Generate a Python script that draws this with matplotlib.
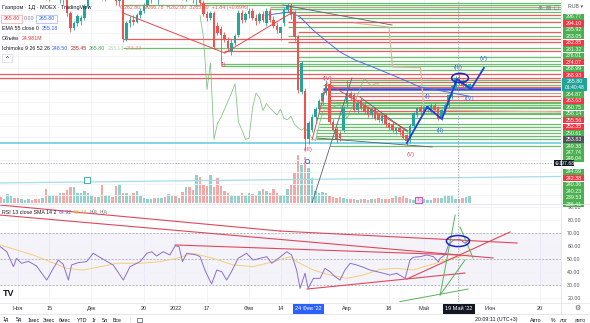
import matplotlib
matplotlib.use("Agg")
import matplotlib.pyplot as plt
import numpy as np
from matplotlib.patches import Rectangle, Ellipse

plt.rcParams['font.family'] = ['Liberation Sans', 'DejaVu Sans']

# ---------------- data ----------------
first_bar = -5  # bar index of the first candle (0 = 1 Nov 2021)

opens = [352, 347, 350, 354, 357, 355, 351, 353, 357, 361,
         359, 354, 349, 351, 341, 346, 349, 343, 345, 338,
         327, 314, 318, 320, 323, 333, 342, 347, 345, 348,
         340, 345, 348, 343, 337, 340, 305, 318, 321, 319,
         325, 329, 334, 339, 344, 341, 345, 348, 346, 349,
         353, 350, 352, 341, 347, 344, 339, 343, 336, 326,
         323, 327, 316, 313, 308, 303, 293, 301, 308, 327,
         321, 326, 329, 323, 320, 326, 318, 329, 321, 316,
         310, 318, 330, 334, 328, 306, 259, 260, 218, 226,
         237, 244, 251, 258, 266, 233, 227, 223, 226, 249,
         258, 256, 243, 252, 248, 245, 239, 245, 240, 234,
         239, 232, 231, 225, 228, 226, 222, 218, 230, 239,
         246, 242, 244, 243, 247, 246, 237, 242, 248, 255,
         263, 272, 268, 262, 262.8]
highs = [358, 352, 356, 360, 362, 360, 355, 359, 364, 366,
         362, 357, 353, 354, 348, 352, 351, 347, 348, 340,
         329, 320, 326, 325, 335, 344, 349, 352, 350, 351,
         347, 350, 352, 345, 342, 341, 320, 324, 325, 327,
         331, 336, 341, 346, 348, 347, 350, 353, 351, 356,
         358, 354, 355, 349, 352, 348, 345, 346, 338, 329,
         329, 329, 319, 316, 311, 306, 305, 309, 330, 330,
         328, 331, 331, 326, 328, 329, 331, 331, 324, 319,
         316, 332, 336, 336, 330, 308, 286, 262, 234, 240,
         246, 253, 260, 269, 269, 236, 229, 225, 247, 269,
         260, 258, 250, 254, 250, 247, 245, 246, 241, 239,
         240, 233, 233, 229, 230, 227, 223, 231, 242, 246,
         248, 247, 248, 249, 249, 247, 244, 249, 257, 265,
         273, 274, 270, 267, 266.78]
lows = [345, 340, 346, 350, 352, 349, 346, 350, 354, 357,
        352, 346, 343, 338, 337, 343, 341, 336, 335, 324,
        311, 312, 316, 317, 321, 331, 339, 343, 340, 338,
        337, 342, 341, 334, 333, 302, 303, 315, 317, 318,
        323, 327, 332, 336, 339, 335, 341, 344, 340, 346,
        348, 344, 338, 337, 342, 336, 333, 334, 324, 320,
        321, 296, 308, 284, 302, 294, 291, 299, 306, 318,
        319, 323, 321, 317, 318, 319, 316, 319, 314, 310,
        304, 316, 328, 322, 303, 258, 257, 209, 214, 224,
        234, 241, 248, 256, 231, 225, 215, 217, 224, 246,
        252, 242, 241, 243, 240, 237, 237, 235, 233, 232,
        229, 226, 224, 223, 222, 218, 213, 215, 228, 237,
        240, 240, 242, 241, 243, 235, 235, 240, 246, 253,
        261, 265, 262, 261, 262.0]
closes = [347, 350, 354, 357, 355, 351, 353, 357, 361, 359,
          354, 349, 351, 341, 346, 349, 343, 345, 338, 327,
          314, 318, 324, 323, 333, 342, 347, 345, 348, 340,
          345, 348, 343, 337, 340, 305, 318, 321, 319, 325,
          329, 334, 339, 344, 341, 345, 348, 346, 349, 353,
          350, 352, 341, 347, 344, 339, 343, 336, 326, 323,
          327, 298, 310, 308, 304, 297, 301, 307, 327, 321,
          326, 329, 323, 320, 326, 321, 329, 321, 316, 312,
          315, 330, 334, 325, 306, 261, 284, 218, 232, 237,
          244, 251, 258, 266, 233, 226, 218, 219, 245, 258,
          254, 243, 249, 245, 242, 239, 244, 236, 235, 238,
          231, 228, 226, 228, 224, 219, 217, 230, 241, 245,
          242, 246, 247, 248, 243, 236, 243, 248, 256, 264,
          271, 267, 264, 266, 265.8]
volumes_m = [21, 14, 31, 24, 17, 17, 14, 10, 14, 10,
             14, 14, 17, 49, 28, 28, 24, 35, 35, 45,
             56, 56, 35, 35, 42, 35, 28, 21, 21, 63,
             28, 28, 21, 59, 66, 35, 35, 28, 35, 42,
             24, 17, 14, 14, 17, 17, 17, 21, 31, 28,
             24, 17, 38, 56, 56, 45, 98, 91, 63, 59,
             98, 56, 87, 59, 42, 35, 28, 28, 24, 35,
             28, 35, 31, 28, 42, 49, 42, 35, 49, 35,
             28, 28, 49, 63, 105, 168, 133, 161, 122, 87,
             42, 35, 38, 35, 24, 21, 17, 21, 17, 14,
             14, 14, 10, 14, 14, 10, 14, 14, 17, 14,
             14, 14, 17, 24, 21, 24, 17, 14, 10, 10,
             10, 14, 10, 10, 17, 17, 17, 28, 28, 28,
             14, 14, 17, 21, 24.981]

# Ichimoku lagging span: 26-bar shift, shown from this bar on
chikou_shift = 26
chikou_first_bar = 52

# EMA 55
ema_idx = [70.6, 77.7, 80.6, 84.3, 87.7, 92, 96.3, 101.4, 108.3, 114.9, 122.6, 129]
ema_val = [325, 327.9, 323.5, 312.3, 303.7, 293.4, 286.5, 280.4, 271.8, 263.2, 258.9, 255.18]

# Ichimoku leading span (pale)
senkou_idx = [96, 106, 107, 115, 116, 155]
senkou_val = [318.4, 314.9, 280.4, 280.0, 243.4, 241.7]

# horizontal levels: price, first bar, kind
hl_levels = [335.6, 333.9, 332.2, 330.4, 327.9, 325.3, 322.7, 319.2, 314.9, 310.6,
             307.2, 304.6, 302.0, 296.77, 294.10, 289.1, 285.92, 283.05, 281.32, 277.9,
             274.07, 271.0, 268.99, 267.5, 264.87, 263.63, 261.5, 258.14, 255.56, 252.35,
             250.61, 249.38, 247.74, 246.04, 244.69, 242.38, 240.36, 239.53, 236.41, 231.3,
             228.7, 226.1, 223.6, 221.0, 218.4, 215.0, 212.3]
hl_start = [52, 30, 72, 72, 75, 80, 80, 77, 77, 80,
            77, 30, 77, 30, 59, 80, 80, 58, 58, 80,
            -6, -6, 89, 89, 87, 89, 87, 89, 89, 89,
            89, 86, 86, 86, 86, 86, 86, 86, 85, 86,
            86, 85, 85, 85, 85, -6, 89]
hl_kind = ['G', 'G', 'O', 'G', 'G', 'R', 'G', 'R', 'G', 'R',
           'G', 'R', 'R', 'G', 'R', 'G', 'G', 'G', 'G', 'G',
           'R', 'R', 'G', 'R', 'G', 'R', 'B', 'O', 'R', 'R',
           'G', 'G', 'G', 'G', 'G', 'R', 'G', 'G', 'G', 'G',
           'G', 'G', 'G', 'G', 'G', 'C', 'G']

# trend lines in price pane
tl_x0 = [30, 59.1, 75.7, 84, 89.1, 97.7, 85.4, 84]
tl_y0 = [327.0, 292.5, 333.9, 217.5, 264.9, 254.6, 219.2, 163.2]
tl_x1 = [59.1, 78.6, 106.9, 88.3, 111.1, 111.4, 118.3, 95.4]
tl_y1 = [292.5, 327.9, 316.6, 266.7, 226.1, 224.4, 211.5, 271.0]
tl_kind = ['R', 'R', 'D', 'R', 'R', 'D', 'D', 'D']

# light cyan line in volume area
vline_idx = [-5.14, 155.14]
vline_val = [180.5, 186.1]

# blue Elliott wave count
wave_idx = [111.1, 116.9, 121.1, 125.4, 129.4, 133.1]
wave_val = [215.0, 246.0, 235.6, 270.0, 261.5, 279.6]
wave_lbl_text = ['(I)', '(III)', '(IV)', '(V)', '(I)', '(II)', '(III)', '(IV)', '(V)']
wave_lbl_idx = [58.6, 82.9, 88.3, 112.3, 117.1, 120.6, 125.7, 129.1, 132.9]
wave_lbl_val = [283.0, 208.9, 270.1, 204.6, 254.6, 226.1, 279.6, 252.9, 288.2]
wave_lbl_kind = ['R', 'R', 'R', 'R', 'B', 'B', 'B', 'B', 'B']

cross_idx = 125.7
cross_price = 197.68

# RSI
rsi_idx = [-5.1, -3.2, -1.3, -0.4, 1, 3, 5.3, 8.2, 10.1, 11.5, 12.9, 14.4, 15.3, 17.2, 19.6,
           21.5, 23.4, 27.2, 30.1, 32, 34.9, 36.8, 38.2, 39.6, 41.5, 43.4, 44.9, 46, 47, 48.2,
           51, 52, 53.4, 55.3, 56.8, 58.2, 59.6, 61, 62.9, 65.3, 67.2, 69.1, 71.1, 72.5, 74.4,
           76.8, 78.2, 79.6, 80.6, 82, 82.9, 84.4, 86.3, 87.7, 89.1, 90.6, 92, 93.4, 94.9, 96.8,
           98.7, 100.6, 102.5, 104.4, 106.3, 108.2, 110.6, 112, 112.9, 114.9, 116.8, 118.7,
           120.1, 120.6, 122, 123, 124.4, 126.3, 127.7, 129.1]
rsi_val = [59.5, 55.6, 44.1, 50.5, 46.7, 48.2, 44.6, 33.8, 42.8, 49.2, 46, 33.8, 45.4, 47.2, 48,
           54.4, 51.3, 45.4, 33.8, 44.1, 48, 54.4, 55.6, 52.3, 55.6, 53.1, 60.2, 59.5, 48, 54.4,
           53.1, 51.8, 41.5, 30.8, 41.5, 40.3, 33.8, 40.3, 50.5, 54.4, 49.2, 50.5, 51.8, 46.7, 50.5,
           55.6, 53.1, 41.5, 27.4, 39, 27.4, 35.1, 35.1, 42.8, 40.3, 36.4, 33.8, 41.5, 46.7, 45.4,
           43.6, 41.5, 40.3, 39, 37.7, 39, 35.1, 49.2, 51.3, 51.8, 53.1, 51.8,
           47.9, 50.5, 53.1, 60.8, 64.6, 65.1, 62.1, 64.92]
sma_idx = [-5.1, 4.4, 14, 18.6, 23.4, 28.2, 35, 40.6, 45.3, 50, 55.8, 61.5, 67.2, 73, 77.7,
           79.6, 84.4, 89.1, 93.9, 98.7, 103.4, 108.2, 112.9, 117.7, 122.5, 129.1]
sma_val = [60.8, 53, 42.8, 41.5, 44, 46.7, 46.7, 48, 50.5, 54.4, 50.5, 45.4, 44.1, 48, 51.8,
           48, 41.5, 37.7, 35.1, 37.7, 42, 42.8, 41.5, 45.4, 49.2, 53.78]

rl_x0 = [-5.1, 74.9, -5.1, 44.9, 82.6, 111.1, 109.1, 120.6, 120.6, 126.3]
rl_y0 = [91.5, 71.5, 83.8, 60.8, 26.9, 34.6, 17.2, 22.3, 22.3, 74.6]
rl_x1 = [74.9, 142.6, 135.7, 126.3, 127.7, 140.6, 128.6, 124.9, 127.7, 130]
rl_y1 = [71.5, 62.3, 50.8, 53.1, 39.2, 70.8, 26.9, 83.8, 49.2, 50.8]
rl_kind = ['R', 'R', 'R', 'R', 'R', 'R', 'G', 'G', 'G', 'G']

tick_idx = [0, 9, 21, 36, 45, 54, 66, 75, 83, 94, 106, 116, 126, 135, 149]
tick_labels = ['Ноя', '15', 'Дек', '20', '2022', '17', 'Фев', '14', "24 Фев '22",
               'Апр', '18', 'Май', "19 Май '22", 'Июн', '20']
highlight = {"24 Фев '22": '#2962ff', "19 Май '22": '#131722'}

scale_labels = ['296.77', '294.10', '285.92', '283.05', '282.85', '281.32', '276.01', '274.07',
                '268.99', '268.93', '265.80', '264.87', '263.63', '260.75', '258.14', '255.56',
                '252.35', '250.61', '253.83', '249.38', '247.74', '246.04', '197.68', '244.69',
                '242.38', '240.36', '240.23', '239.53', '236.41']
scale_kind = ['G', 'R', 'G', 'G', 'R', 'G', 'G', 'R', 'G', 'R', 'CUR', 'G', 'R', 'G', 'G', 'R',
              'R', 'G', 'D', 'G', 'G', 'G', 'X', 'G', 'R', 'G', 'G', 'G', 'G']

# ---------------- figure ----------------
W, H = 590, 323
fig = plt.figure(figsize=(W / 100, H / 100), dpi=100, facecolor='white')


def rect(x0, y0, x1, y1):
    return [x0 / W, 1 - y1 / H, (x1 - x0) / W, (y1 - y0) / H]


XL = (-5.14, 155.14)
ax_vol = fig.add_axes(rect(0, 0, 561, 203), zorder=1)
ax = fig.add_axes(rect(0, 0, 561, 203), zorder=2)
ax.patch.set_alpha(0)
ax_rsi = fig.add_axes(rect(0, 205, 561, 302), zorder=2)
ov = fig.add_axes([0, 0, 1, 1], zorder=5)
ov.set_xlim(0, W)
ov.set_ylim(H, 0)
ov.axis('off')

for a in (ax_vol, ax, ax_rsi):
    a.set_xlim(*XL)
    for s in a.spines.values():
        s.set_visible(False)
ax.set_ylim(163.2, 338.2)
ax_vol.set_ylim(0, 710.5)
ax_rsi.set_ylim(16.92, 91.54)
for a in (ax_vol, ax):
    a.set_xticks([])
    a.set_yticks([])

grid_c = '#f0f2f7'
for t in tick_idx:
    ax_vol.axvline(t, color=grid_c, lw=0.6, zorder=0)
    ax_rsi.axvline(t, color=grid_c, lw=0.6, zorder=0)
for p in np.arange(170, 340, 10):
    ax.axhline(p, color=grid_c, lw=0.6, zorder=0.5)

idx = np.arange(first_bar, first_bar + len(closes))
o = np.array(opens, float)
h = np.array(highs, float)
l = np.array(lows, float)
c = np.array(closes, float)
up = c >= o
UP, DN = '#26a69a', '#ef5350'
cols = np.where(up, UP, DN)

# volume
ax_vol.bar(idx, volumes_m, width=0.7, color=cols, alpha=0.5, linewidth=0, zorder=1)

# horizontal levels
hl_style = {'G': ('#5fb760', 0.9), 'R': ('#ec4a4a', 0.9), 'O': ('#a9a47c', 0.9),
            'B': ('#3035c8', 1.8), 'C': ('#5bc9dc', 1.2)}
for lv, st, kd in zip(hl_levels, hl_start, hl_kind):
    colr, lw = hl_style[kd]
    ax.hlines(lv, st, 156, colors=colr, lw=lw, alpha=0.9, zorder=2)

ax.plot(vline_idx, vline_val, color='#a6dde8', lw=0.9, zorder=2)

# candles
ax.vlines(idx, l, h, colors=cols, lw=0.6, zorder=4)
ax.bar(idx, np.maximum(np.abs(c - o), 0.5), bottom=np.minimum(o, c), width=0.66,
       color=cols, linewidth=0, zorder=5)

# Ichimoku lagging span (close shifted back)
ch_x = idx[:-chikou_shift]
ch_y = c[chikou_shift:]
keep = ch_x >= chikou_first_bar
ax.plot(ch_x[keep], ch_y[keep], color='#6dbb70', lw=0.55, alpha=0.9, zorder=3)
ax.plot(senkou_idx, senkou_val, color='#d9b8a3', lw=0.9, zorder=3)
# EMA
ax.plot(ema_idx, ema_val, color='#4a6fe0', lw=0.7, zorder=3)

# trend lines
tl_style = {'R': ('#e5484d', 0.7), 'D': ('#5d606b', 0.6)}
for x0, y0, x1, y1, kd in zip(tl_x0, tl_y0, tl_x1, tl_y1, tl_kind):
    colr, lw = tl_style[kd]
    ax.plot([x0, x1], [y0, y1], color=colr, lw=lw, zorder=6)

# wave drawing
ax.plot(wave_idx, wave_val, color='#1f3fd6', lw=1.3, zorder=7)
ax.add_patch(Ellipse((126.3, 271), 4.8, 8.0, fill=False, ec='#1a23c4', lw=1.1, zorder=7))
lbl_col = {'R': '#f0456a', 'B': '#2f6ee8'}
for t, xi, yv, kd in zip(wave_lbl_text, wave_lbl_idx, wave_lbl_val, wave_lbl_kind):
    ax.text(xi, yv, t, color=lbl_col[kd], fontsize=4.3, ha='center', va='center', zorder=8)

# crosshair
ax.axhline(cross_price, color='#9598a1', lw=0.5, ls=(0, (2, 2)), zorder=6)
ax.axvline(cross_idx, color='#9598a1', lw=0.5, ls=(0, (2, 2)), zorder=6)
ax_rsi.axvline(cross_idx, color='#9598a1', lw=0.5, ls=(0, (2, 2)), zorder=6)
ax.plot([82.6], [199.4], 'o', mfc='white', mec='#2962ff', ms=3, mew=0.6, zorder=8)

# RSI pane
ax_rsi.axhspan(30, 70, color='#7e57c2', alpha=0.07, lw=0, zorder=0)
for g in range(20, 100, 10):
    ax_rsi.axhline(g, color=grid_c, lw=0.6, zorder=0)
for g in (30, 50, 70):
    ax_rsi.axhline(g, color='#a0a3ad', lw=0.5, ls=(0, (3, 2)), zorder=1)
ax_rsi.plot(sma_idx, sma_val, color='#f3cf7a', lw=0.7, zorder=3)
ax_rsi.plot(rsi_idx, rsi_val, color='#8a6fd1', lw=0.7, zorder=4)
rl_style = {'R': ('#e0475a', 0.8), 'G': ('#56b35a', 0.7)}
for x0, y0, x1, y1, kd in zip(rl_x0, rl_y0, rl_x1, rl_y1, rl_kind):
    colr, lw = rl_style[kd]
    ax_rsi.plot([x0, x1], [y0, y1], color=colr, lw=lw, zorder=5)
ax_rsi.add_patch(Ellipse((125.7, 63.8), 6.6, 8.5, fill=False, ec='#1a23c4', lw=1.1, zorder=6))

ax_rsi.yaxis.tick_right()
ax_rsi.set_yticks(range(20, 100, 10))
ax_rsi.set_yticklabels([f'{v:.2f}' for v in range(20, 100, 10)])
ax_rsi.tick_params(axis='y', length=0, pad=4.5, labelsize=3.8, labelcolor='#50535e')
ax_rsi.set_xticks(tick_idx)
ax_rsi.set_xticklabels(tick_labels)
ax_rsi.tick_params(axis='x', length=0, pad=3.2, labelsize=4, labelcolor='#2a2e39')
for lab in ax_rsi.get_xticklabels():
    t = lab.get_text()
    if t in highlight:
        lab.set_color('white')
        lab.set_bbox(dict(boxstyle='square,pad=0.45', fc=highlight[t], ec='none'))

# ---------------- overlay (legend, price scale, toolbar) ----------------
renderer = fig.canvas.get_renderer()


def seq_text(x, y, parts, fs, gap=2.2):
    for txt, col in parts:
        t = ov.text(x, y, txt, fontsize=fs, color=col, va='center')
        x += t.get_window_extent(renderer=renderer).width + gap
    return x


sep = '#e0e3eb'
ov.plot([0, W], [204, 204], color=sep, lw=0.6)
ov.plot([0, W], [302.5, 302.5], color=sep, lw=0.5)
ov.plot([0, W], [314, 314], color=sep, lw=0.6)
ov.plot([561, 561], [0, 314], color=sep, lw=0.6)

fs = 3.8
dark = '#131722'
ov.text(2, 7, 'Газпром · 1Д · MOEX · TradingView', fontsize=4.0, color=dark, va='center')
ov.text(120, 7, 'О262.80  М266.78  Н262.00  З265.80  +1.84 (+0.69%)', fontsize=fs,
        color='#ef5350', va='center')
ov.add_patch(Rectangle((1, 14.5), 21, 8, fc='white', ec='#f5a3a3', lw=0.5))
ov.text(11.5, 18.5, '265.80', fontsize=fs, color='#f23645', ha='center', va='center')
ov.text(29, 18.5, '0.00', fontsize=fs, color='#787b86', ha='center', va='center')
ov.add_patch(Rectangle((36, 14.5), 21, 8, fc='white', ec='#9bb4f5', lw=0.5))
ov.text(46.5, 18.5, '265.80', fontsize=fs, color='#2962ff', ha='center', va='center')
seq_text(2, 29, [('EMA 55 close 0', dark), ('255.18', '#2962ff')], fs, gap=3)
seq_text(2, 38.5, [('Объём', dark), ('24.981M', '#f23645')], fs, gap=3)
seq_text(2, 48, [('Ichimoku 9 26 52 26', dark), ('248.50', '#2962ff'), ('235.45', '#b71c1c'),
                 ('265.80', '#43a047'), ('233.13', '#a5d6a7'), ('243.33', '#ef9a9a')], fs)
ov.add_patch(Rectangle((2, 54), 10, 8, fc='white', ec='#d1d4dc', lw=0.5))
ov.text(7, 58.5, '^', fontsize=4.5, color=dark, ha='center', va='center')

seq_text(2, 212, [('RSI 13 close SMA 14 2', dark), ('64.92', '#7e57c2'), ('53.78', '#e6b84a'),
                  ('н/д', '#787b86'), ('н/д', '#787b86')], fs)

# icons in volume area
ov.add_patch(Rectangle((84, 177), 6, 6, fc='white', ec='#26a69a', lw=0.6))
ov.add_patch(Rectangle((414.5, 196.5), 7, 6.5, fc='#f6d3f0', ec='#c2409f', lw=0.6))
ov.text(418, 199.8, 'I', fontsize=3.5, color='#c2409f', ha='center', va='center')

# top-right icons
for xx, ic in [(540, '⊕'), (548, '⊠'), (556, '☐')]:
    ov.text(xx, 8, ic, fontsize=4.2, color='#787b86', ha='center', va='center',
            family=['DejaVu Sans'])
ov.text(575, 6.5, 'RUB ▾', fontsize=3.8, color='#50535e', ha='center', va='center',
        family=['Liberation Sans', 'DejaVu Sans'])

# price scale labels (stacked)
box_col = {'G': '#4caf50', 'R': '#f23645', 'D': '#50535e', 'X': '#131722', 'CUR': '#22a39a'}
yy = 17.0
step = 6.45
for txt, kd in zip(scale_labels, scale_kind):
    if kd == 'CUR':
        ov.add_patch(Rectangle((562, yy - 3.2), 25, 12.6, fc=box_col[kd], ec='none'))
        ov.text(574.5, yy, txt, fontsize=3.8, color='white', ha='center', va='center')
        ov.text(574.5, yy + 6.2, '01:40:48', fontsize=3.6, color='white', ha='center', va='center')
        yy += 2 * step
    elif kd == 'X':
        ov.add_patch(Rectangle((554, yy - 5.2), 20, 6.2, fc=box_col[kd], ec='none'))
        ov.text(557, yy - 2.1, '⊕', fontsize=3.5, color='white', ha='center', va='center',
                family=['DejaVu Sans'])
        ov.text(566.5, yy - 2.1, txt, fontsize=3.8, color='white', ha='center', va='center')
        yy += step
    else:
        ov.add_patch(Rectangle((563, yy - 3.1), 21, 6.2, fc=box_col[kd], ec='none'))
        ov.text(573.5, yy, txt, fontsize=3.8, color='white', ha='center', va='center')
        yy += step

# TradingView logo
ov.text(3, 293, 'TV', fontsize=6.5, weight='bold', color=dark, va='center')
ov.text(577, 308, '⚙', fontsize=5, color='#50535e', ha='center', va='center',
        family=['DejaVu Sans'])

# bottom toolbar
for xx, tx in [(3, '1д'), (16, '5д'), (28, '1мес'), (43, '3мес'), (59, '6мес'), (77, 'YTD'),
               (92, '1г'), (102, '5л'), (113, 'Все')]:
    ov.text(xx, 320, tx, fontsize=fs, color=dark, va='center')
ov.plot([130, 130], [316.5, 322.5], color=sep, lw=0.6)
ov.add_patch(Rectangle((137, 317.5), 5, 4.5, fc='white', ec='#50535e', lw=0.5))
ov.text(475, 320, '20:09:11 (UTC+3)', fontsize=fs, color=dark, va='center')
for xx, tx in [(530, 'Авто'), (551, '%'), (560, 'лог'), (575, 'авто')]:
    ov.text(xx, 320, tx, fontsize=fs, color=dark, va='center')

fig.savefig('out.png', dpi=100, facecolor='white')
